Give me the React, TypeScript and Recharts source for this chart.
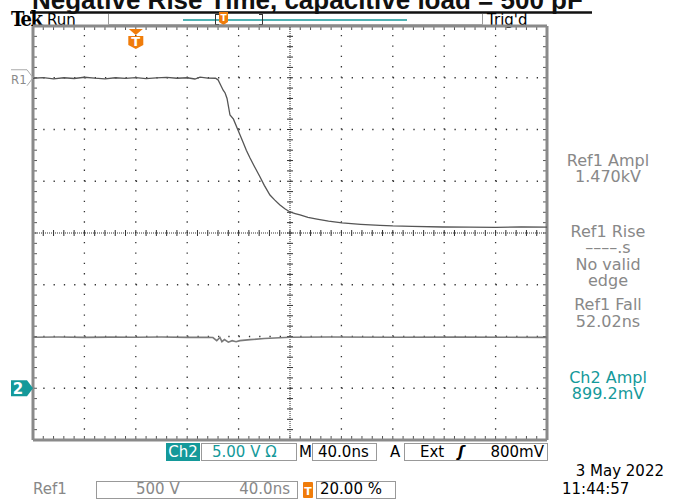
import React from 'react';
import { ComposedChart, Line, XAxis, YAxis, ReferenceLine, ReferenceDot } from 'recharts';

// scope settings
const TIME_DOMAIN = [-80, 320]; // ns, 40 ns/div, trigger at 20 %
const DIV_DOMAIN = [-4, 4];
const REF1_VOLTS_PER_DIV = 500;
const CH2_VOLTS_PER_DIV = 5;
const CH2_OFFSET_DIV = -3;

// Ref1 trace (ns, V)
const ref1Time = [-80, -72, -64, -56, -48, -40, -32, -24, -16, -8, 0, 8, 16, 24, 32, 40, 46, 50, 56, 62, 64, 66, 68, 69.5, 71, 73.3, 76, 79.5, 83.4, 86, 88.9, 92, 96.7, 100, 104.4, 108, 112.2, 116, 120, 124, 127.8, 134, 141, 150, 160.5, 175, 190, 200, 215, 239, 260, 280, 300, 320];
const ref1Volts = [1495, 1502, 1490, 1500, 1493, 1505, 1496, 1490, 1500, 1494, 1502, 1492, 1498, 1504, 1495, 1500, 1488, 1506, 1497, 1495, 1480, 1430, 1380, 1353, 1300, 1140, 1100, 995, 879, 800, 725, 650, 541, 460, 367, 320, 271, 235, 203, 188, 174, 152, 135, 115, 97, 84, 74, 68, 64, 58, 57, 55, 58, 56];

// Ch2 trace (ns, V)
const ch2Time = [-80, -60, -40, -20, 0, 20, 40, 55, 60, 63, 65.5, 67, 69, 72, 75, 78, 81, 89, 100, 120, 150, 200, 250, 320];
const ch2Volts = [4.93, 4.95, 4.92, 4.94, 4.93, 4.95, 4.92, 4.93, 4.9, 4.6, 4.9, 4.5, 4.7, 4.45, 4.6, 4.5, 4.6, 4.7, 4.8, 4.93, 4.95, 4.93, 4.94, 4.92];

const ref1Data = ref1Time.map((t, i) => ({ t, div: ref1Volts[i] / REF1_VOLTS_PER_DIV }));
const ch2Data = ch2Time.map((t, i) => ({ t, div: ch2Volts[i] / CH2_VOLTS_PER_DIV + CH2_OFFSET_DIV }));

const majorX = [-40, 0, 40, 80, 160, 200, 240, 280];
const majorY = [-3, -2, -1, 1, 2, 3];
const fifthX = Array.from({ length: 51 }, (_, i) => -80 + i * 8);
const fifthY = Array.from({ length: 41 }, (_, i) => -4 + i * 0.2);

const NS_PER_PX = 400 / 514;
const DIV_PER_PX = 8 / 414;
const TEAL = '#14999a';
const ORANGE = '#f07c0a';
const GREY = '#888';
const FONT = 'DejaVu Sans';

const TrigMarker = (p: any) => (
  <g>
    <path d={`M${p.cx - 7},${p.cy + 3} L${p.cx + 7},${p.cy + 3} L${p.cx},${p.cy + 9} Z`} fill={ORANGE} />
    <path d={`M${p.cx - 7.5},${p.cy + 10} H${p.cx + 7.5} V${p.cy + 19} L${p.cx},${p.cy + 23} L${p.cx - 7.5},${p.cy + 19} Z`} fill={ORANGE} />
    <text x={p.cx} y={p.cy + 20} textAnchor="middle" fontSize={13} fontWeight="bold" fill="#fff" fontFamily={FONT}>T</text>
  </g>
);

const R1Marker = (p: any) => (
  <g>
    <path d={`M${p.cx - 22},${p.cy - 8} H${p.cx - 6} L${p.cx},${p.cy} L${p.cx - 6},${p.cy + 8}`} fill="none" stroke="#aaa" strokeWidth={1} />
    <text x={p.cx - 22} y={p.cy + 6} fontSize={13} fill="#8a8a8a" fontFamily="DejaVu Sans Condensed">R1</text>
  </g>
);

const Ch2Marker = (p: any) => (
  <g>
    <path d={`M${p.cx - 22},${p.cy - 8} H${p.cx - 6} L${p.cx},${p.cy} L${p.cx - 6},${p.cy + 8} H${p.cx - 22} Z`} fill={TEAL} />
    <text x={p.cx - 15} y={p.cy + 6} textAnchor="middle" fontSize={15} fontWeight="bold" fill="#fff" fontFamily={FONT}>2</text>
  </g>
);

const readouts = [
  { text: 'Ref1 Ampl', y: 166, color: GREY },
  { text: '1.470kV', y: 182, color: GREY },
  { text: 'Ref1 Rise', y: 237, color: GREY },
  { text: '––––.s', y: 253, color: GREY },
  { text: 'No valid', y: 270, color: GREY },
  { text: 'edge', y: 286, color: GREY },
  { text: 'Ref1 Fall', y: 310, color: GREY },
  { text: '52.02ns', y: 327, color: GREY },
  { text: 'Ch2 Ampl', y: 383, color: TEAL },
  { text: '899.2mV', y: 399, color: TEAL },
];

const Overlay = () => (
  <svg width={684} height={500} style={{ position: 'absolute', left: 0, top: 0 }}>
    <text x={32} y={9} fontSize={26} fontWeight="bold" fontFamily="Liberation Sans" fill="#111">Negative Rise Time, capacitive load = 500 pF</text>
    <line x1={30} x2={592} y1={12.5} y2={12.5} stroke="#111" strokeWidth={2.5} />
    <rect x={0} y={14} width={684} height={12} fill="#fff" />
    <text x={11} y={26} fontSize={20} fontWeight="bold" fontFamily="DejaVu Serif Condensed" fill="#000" letterSpacing={-1.5}>Tek</text>
    <text x={47} y={25} fontSize={15} fontFamily={FONT} fill="#000">Run</text>
    <text x={487} y={25} fontSize={15} fontFamily={FONT} fill="#000">Trig'd</text>
    <line x1={108.5} x2={108.5} y1={14} y2={25} stroke="#999" />
    <line x1={482.5} x2={482.5} y1={14} y2={25} stroke="#999" />
    <line x1={108} x2={483} y1={24.5} y2={24.5} stroke="#bbb" />
    <line x1={183} x2={407} y1={20} y2={20} stroke={TEAL} strokeWidth={1.5} />
    <line x1={215.5} x2={215.5} y1={14} y2={25} stroke="#333" />
    <line x1={215} x2={219} y1={14.5} y2={14.5} stroke="#333" />
    <line x1={215} x2={219} y1={24.5} y2={24.5} stroke="#333" />
    <line x1={262.5} x2={262.5} y1={14} y2={25} stroke="#333" />
    <line x1={259} x2={263} y1={14.5} y2={14.5} stroke="#333" />
    <line x1={259} x2={263} y1={24.5} y2={24.5} stroke="#333" />
    <path d="M219,12 H228 V22 L223.5,25 L219,22 Z" fill={ORANGE} />
    <text x={223.5} y={21} textAnchor="middle" fontSize={9} fontWeight="bold" fill="#fff" fontFamily={FONT}>T</text>

    {readouts.map((r) => (
      <text key={r.text} x={608} y={r.y} textAnchor="middle" fontSize={16} fontFamily={FONT} fill={r.color}>{r.text}</text>
    ))}

    {/* bottom status rows */}
    <rect x={166} y={443} width={34} height={18} fill={TEAL} />
    <text x={183} y={457} textAnchor="middle" fontSize={15} fontFamily={FONT} fill="#fff">Ch2</text>
    <rect x={201.5} y={443.5} width={95} height={17} fill="none" stroke="#999" />
    <text x={212} y={457} fontSize={15} fontFamily={FONT} fill={TEAL}>5.00 V Ω</text>
    <text x={299} y={457} fontSize={15} fontFamily={FONT} fill="#000">M</text>
    <rect x={312.5} y={443.5} width={64} height={17} fill="none" stroke="#999" />
    <text x={318} y={457} fontSize={15} fontFamily={FONT} fill="#000">40.0ns</text>
    <text x={390} y={457} fontSize={15} fontFamily={FONT} fill="#000">A</text>
    <rect x={404.5} y={443.5} width={143} height={17} fill="none" stroke="#999" />
    <text x={420} y={457} fontSize={15} fontFamily={FONT} fill="#000">Ext</text>
    <text x={458} y={457} fontSize={15} fontFamily={FONT} fontStyle="italic" fontWeight="bold" fill="#000">ʃ</text>
    <text x={544} y={457} textAnchor="end" fontSize={15} fontFamily={FONT} fill="#000">800mV</text>

    <text x={33} y={494} fontSize={15} fontFamily={FONT} fill={GREY}>Ref1</text>
    <rect x={96.5} y={481.5} width={201} height={17} fill="none" stroke="#999" />
    <text x={136} y={494} fontSize={15} fontFamily={FONT} fill={GREY}>500 V</text>
    <text x={290} y={494} textAnchor="end" fontSize={15} fontFamily={FONT} fill={GREY}>40.0ns</text>
    <rect x={303} y={482} width={10} height={16} rx={1} fill={ORANGE} />
    <text x={308} y={495} textAnchor="middle" fontSize={11} fontWeight="bold" fontFamily={FONT} fill="#fff">T</text>
    <rect x={316.5} y={481.5} width={79} height={17} fill="none" stroke="#999" />
    <text x={320} y={494} fontSize={15} fontFamily={FONT} fill="#000">20.00 %</text>

    <text x={664} y={476} textAnchor="end" fontSize={15} fontFamily={FONT} fill="#000">3 May 2022</text>
    <text x={562} y={494} fontSize={15} fontFamily={FONT} fill="#000">11:44:57</text>
  </svg>
);

export default function App() {
  const ticks: React.ReactNode[] = [];
  fifthX.forEach((t) => {
    ticks.push(<ReferenceLine key={`tt${t}`} ifOverflow="visible" stroke="#555" segment={[{ x: t, y: 4 }, { x: t, y: 4 - 4 * DIV_PER_PX }]} />);
    ticks.push(<ReferenceLine key={`tb${t}`} ifOverflow="visible" stroke="#555" segment={[{ x: t, y: -4 }, { x: t, y: -4 + 4 * DIV_PER_PX }]} />);
    ticks.push(<ReferenceLine key={`tc${t}`} ifOverflow="visible" stroke="#333" segment={[{ x: t, y: -3 * DIV_PER_PX }, { x: t, y: 3 * DIV_PER_PX }]} />);
  });
  fifthY.forEach((d) => {
    ticks.push(<ReferenceLine key={`tl${d}`} ifOverflow="visible" stroke="#555" segment={[{ x: -80, y: d }, { x: -80 + 4 * NS_PER_PX, y: d }]} />);
    ticks.push(<ReferenceLine key={`tr${d}`} ifOverflow="visible" stroke="#555" segment={[{ x: 320, y: d }, { x: 320 - 4 * NS_PER_PX, y: d }]} />);
    ticks.push(<ReferenceLine key={`tv${d}`} ifOverflow="visible" stroke="#333" segment={[{ x: 120 - 3 * NS_PER_PX, y: d }, { x: 120 + 3 * NS_PER_PX, y: d }]} />);
  });

  return (
    <div style={{ position: 'absolute', left: 0, top: 0, width: 684, height: 500, background: '#fff', overflow: 'hidden' }}>
      <Overlay />
      <div style={{ position: 'absolute', left: 0, top: 0 }}>
        <ComposedChart width={684} height={500} margin={{ top: 26, right: 137, bottom: 60, left: 33 }}>
          <XAxis dataKey="t" type="number" domain={TIME_DOMAIN} hide allowDataOverflow />
          <YAxis type="number" domain={DIV_DOMAIN} hide allowDataOverflow />
          {majorX.map((t) => (
            <ReferenceLine key={`gx${t}`} x={t} stroke="#333" strokeWidth={1.3} strokeDasharray="1.3 9.05" />
          ))}
          {majorY.map((d) => (
            <ReferenceLine key={`gy${d}`} y={d} stroke="#333" strokeWidth={1.3} strokeDasharray="1.3 8.98" />
          ))}
          <ReferenceLine x={120} stroke="#333" strokeDasharray="1 1" />
          <ReferenceLine y={0} stroke="#333" strokeDasharray="1 1" />
          {ticks}
          <ReferenceLine x={-80} ifOverflow="visible" stroke="#8a8a8a" strokeWidth={3} />
          <ReferenceLine x={320} ifOverflow="visible" stroke="#8a8a8a" strokeWidth={3} />
          <ReferenceLine y={4} ifOverflow="visible" stroke="#8a8a8a" strokeWidth={3} />
          <ReferenceLine y={-4} ifOverflow="visible" stroke="#8a8a8a" strokeWidth={3} />
          <Line data={ch2Data} dataKey="div" type="linear" dot={false} stroke="#7a7a7a" strokeWidth={1.6} isAnimationActive={false} />
          <Line data={ref1Data} dataKey="div" type="linear" dot={false} stroke="#555" strokeWidth={1.3} isAnimationActive={false} />
          <ReferenceDot x={0} y={4} r={0} ifOverflow="visible" shape={TrigMarker} />
          <ReferenceDot x={-80} y={3} r={0} ifOverflow="visible" shape={R1Marker} />
          <ReferenceDot x={-80} y={CH2_OFFSET_DIV} r={0} ifOverflow="visible" shape={Ch2Marker} />
        </ComposedChart>
      </div>
    </div>
  );
}
